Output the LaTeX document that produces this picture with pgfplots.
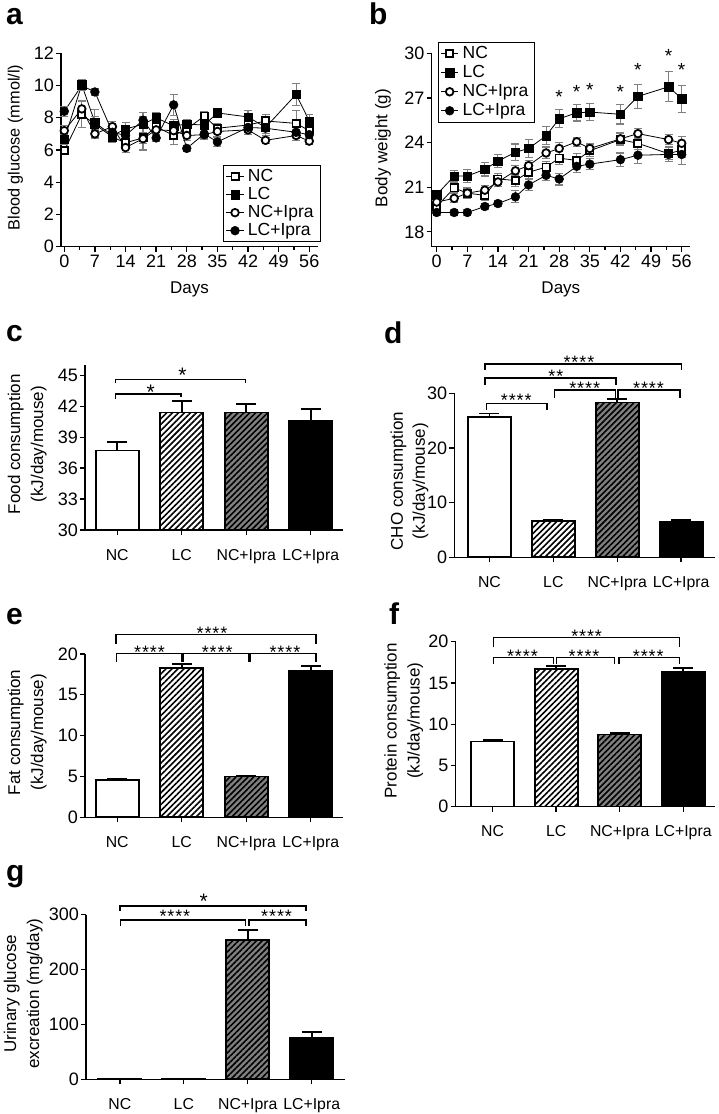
\documentclass[border=0pt]{standalone}
\usepackage{pgfplots}
\pgfplotsset{compat=1.18}
\usepackage{pgfplotstable}
\usepackage{fontspec}
\setmainfont{Liberation Sans}
\usetikzlibrary{patterns.meta}
\newcommand\fs{*\kern0.9pt*\kern0.9pt*\kern0.9pt*}

\pgfplotstableread{
day nc nce lc lce nci ncie lci lcie
0  5.95 0.20 6.65 0.30 7.20 0.30 8.40 0.30
4  8.20 0.80 10.05 0.30 8.55 0.50 10.00 0.30
7  7.60 0.90 7.70 0.40 7.00 0.20 9.60 0.20
11 6.80 0.35 6.90 0.40 7.45 0.30 7.10 0.30
14 6.45 0.35 7.30 0.40 6.15 0.30 6.90 0.30
18 6.75 0.75 7.60 0.50 6.70 0.30 7.85 0.50
21 7.45 0.35 8.00 0.30 7.25 0.30 6.75 0.20
25 6.90 0.55 7.50 0.40 7.20 0.40 8.80 0.65
28 7.30 0.30 7.60 0.30 6.90 0.30 6.10 0.20
32 8.10 0.30 7.55 0.40 6.95 0.30 7.00 0.30
35 7.35 0.30 8.30 0.30 7.15 0.30 6.50 0.30
42 7.55 0.30 8.05 0.40 7.25 0.30 7.40 0.30
46 7.80 0.40 7.40 0.50 6.60 0.20 7.35 0.30
53 7.65 0.80 9.45 0.70 6.90 0.30 7.10 0.30
56 7.20 0.30 7.80 0.40 6.55 0.20 6.95 0.30
}\glucose

\pgfplotstableread{
day nc nce lc lce nci ncie lci lcie
0  19.70 0.30 20.50 0.30 20.00 0.30 19.30 0.20
4  20.95 0.30 21.75 0.40 20.25 0.30 19.30 0.20
7  20.60 0.35 21.75 0.45 20.60 0.30 19.30 0.20
11 20.45 0.35 22.20 0.45 20.80 0.30 19.70 0.20
14 21.55 0.35 22.75 0.45 21.35 0.30 19.90 0.20
18 21.45 0.40 23.35 0.55 22.10 0.35 20.35 0.40
21 22.00 0.45 23.60 0.60 22.45 0.35 21.15 0.35
25 22.35 0.40 24.45 0.60 23.30 0.40 21.80 0.35
28 22.95 0.45 25.60 0.60 23.60 0.40 21.55 0.40
32 22.80 0.45 26.00 0.55 24.05 0.30 22.40 0.40
35 23.45 0.40 26.05 0.55 23.60 0.35 22.55 0.35
42 24.20 0.40 25.90 0.65 24.25 0.40 22.85 0.45
46 23.95 0.40 27.10 0.80 24.60 0.35 23.15 0.55
53 23.25 0.40 27.75 1.00 24.20 0.35 23.20 0.50
56 23.50 0.50 26.95 0.90 23.95 0.45 23.20 0.70
}\weight

\pgfplotsset{
  common/.style={scale only axis, axis x line*=bottom, axis y line*=left,
    axis line style={-, line width=1.3pt}, tick align=outside,
    major tick length=5pt, minor tick length=3.5pt,
    every tick/.style={black, line width=1.3pt},
    tick label style={font=\fontsize{18}{18}\selectfont},
    yticklabel style={inner sep=2pt},
    label style={font=\fontsize{17}{23}\selectfont},
    /pgf/number format/assume math mode=true},
  linepanel/.style={common, clip=false, xtick={0,7,...,56}, minor x tick num=1,
    xlabel style={at={(axis description cs:0.5,0)}, anchor=center, yshift=-43pt},
    legend cell align=left,
    legend style={draw=black, line width=1.2pt, font=\fontsize{17.5}{18}\selectfont,
      inner xsep=2.5pt, inner ysep=2pt, row sep=0pt,
      nodes={text height=12.5pt, text depth=3.5pt, inner ysep=1pt, inner xsep=4pt}}},
  errs/.style={error bars/y dir=both, error bars/y explicit,
    error bars/error bar style={gray, line width=1.1pt},
    error bars/error mark options={gray, rotate=90, mark size=4pt, line width=1.1pt}},
  sNC/.style={black, line width=0.8pt, mark=square*, mark size=3.6pt,
    mark options={solid, fill=white, draw=black, line width=1.8pt}, errs},
  sLC/.style={black, line width=0.8pt, mark=square*, mark size=4.2pt,
    mark options={solid, fill=black, draw=black, line width=0.5pt}, errs},
  sNCI/.style={black, line width=0.8pt, mark=*, mark size=3.8pt,
    mark options={solid, fill=white, draw=black, line width=1.8pt}, errs},
  sLCI/.style={black, line width=0.8pt, mark=*, mark size=4.4pt,
    mark options={solid, fill=black, draw=black, line width=0.5pt}, errs},
  barpanel/.style={common, ybar, clip mode=individual, xmin=-0.5, xmax=3.5,
    xtick={0,1,2,3}, xticklabels={NC,LC,NC+Ipra,LC+Ipra},
    xticklabel style={font=\fontsize{15.8}{16}\selectfont, yshift=-10.5pt},
    ylabel style={align=center, anchor=center}},
  bar/.style={bar width=43pt, bar shift=0pt, draw=black, line width=1.8pt,
    error bars/y dir=plus, error bars/y explicit,
    error bars/error bar style={black, line width=1.8pt},
    error bars/error mark options={black, rotate=90, mark size=10pt, line width=1.8pt}},
  bNC/.style={bar, fill=white},
  bLC/.style={bar, fill=white, postaction={pattern={Lines[angle=45,distance=4.2pt,line width=1.6pt]}, pattern color=black}},
  bNCI/.style={bar, fill=gray, postaction={pattern={Lines[angle=45,distance=4.2pt,line width=1.6pt]}, pattern color=black}},
  bLCI/.style={bar, fill=black},
}
\tikzset{
  brk/.style={draw=black, line width=1.4pt},
  st/.style={font=\fontsize{18}{18}\selectfont, inner sep=0pt, anchor=center, yshift=-3.6pt},
  plab/.style={anchor=base west, inner sep=0pt, font=\fontsize{30}{30}\selectfont\bfseries},
}

\begin{document}
\begin{tikzpicture}
\useasboundingbox (0,0) rectangle (718pt,1114pt);

% panel letters
\node[plab] at (6pt,1089pt) {a};
\node[plab] at (369pt,1089pt) {b};
\node[plab] at (6pt,772.3pt) {c};
\node[plab] at (384pt,770.7pt) {d};
\node[plab] at (6pt,489.7pt) {e};
\node[plab] at (389pt,489pt) {f};
\node[plab] at (6pt,232.3pt) {g};

% ---------------- a
\begin{axis}[linepanel, at={(61pt,867.3pt)}, anchor=south west,
  width=257pt, height=193.4pt, xmin=-0.75, xmax=58, ymin=0, ymax=12,
  ytick={0,2,...,12}, xlabel={Days}, ylabel={Blood glucose (mmol/l)},
  ylabel style={at={(axis description cs:-0.177,0.513)}, anchor=center, font=\fontsize{16.3}{20}\selectfont},
  legend style={at={(axis description cs:1.0105,0.0228)}, anchor=south east}]
\addplot[sNC] table[x=day,y=nc,y error=nce]{\glucose};
\addplot[sLC] table[x=day,y=lc,y error=lce]{\glucose};
\addplot[sNCI] table[x=day,y=nci,y error=ncie]{\glucose};
\addplot[sLCI] table[x=day,y=lci,y error=lcie]{\glucose};
\legend{NC,LC,NC+Ipra,LC+Ipra}
\end{axis}

% ---------------- b
\begin{axis}[linepanel, at={(431.7pt,867.3pt)}, anchor=south west,
  width=258.3pt, height=193.4pt, xmin=-1.14, xmax=57.9, ymin=17, ymax=30,
  ytick={18,21,...,30}, xlabel={Days}, ylabel={Body weight (g)},
  ylabel style={at={(axis description cs:-0.189,0.51)}, anchor=center},
  legend style={at={(axis description cs:0.023,1.06)}, anchor=north west,
    nodes={text height=12.5pt, text depth=3.5pt, inner ysep=1.5pt, inner xsep=4pt}}]
\addplot[sNC] table[x=day,y=nc,y error=nce]{\weight};
\addplot[sLC] table[x=day,y=lc,y error=lce]{\weight};
\addplot[sNCI] table[x=day,y=nci,y error=ncie]{\weight};
\addplot[sLCI] table[x=day,y=lci,y error=lcie]{\weight};
\legend{NC,LC,NC+Ipra,LC+Ipra}
\node[st, font=\fontsize{19}{19}\selectfont] at (axis cs:28,27.3) {*};
\node[st, font=\fontsize{19}{19}\selectfont] at (axis cs:32,27.65) {*};
\node[st, font=\fontsize{19}{19}\selectfont] at (axis cs:35,27.8) {*};
\node[st, font=\fontsize{19}{19}\selectfont] at (axis cs:42,27.65) {*};
\node[st, font=\fontsize{19}{19}\selectfont] at (axis cs:46,29.1) {*};
\node[st, font=\fontsize{19}{19}\selectfont] at (axis cs:53,30.07) {*};
\node[st, font=\fontsize{19}{19}\selectfont] at (axis cs:56,29.1) {*};
\end{axis}

% ---------------- c
\begin{axis}[barpanel, at={(85pt,584pt)}, anchor=south west,
  width=258pt, height=165pt, ymin=30, ymax=46, ytick={30,33,...,45},
  ylabel={Food consumption\\(kJ/day/mouse)},
  ylabel style={at={(axis description cs:-0.224,0.52)}}]
\addplot[bNC] coordinates {(0,37.7) +- (0,0.8)};
\addplot[bLC] coordinates {(1,41.4) +- (0,1.1)};
\addplot[bNCI] coordinates {(2,41.4) +- (0,0.8)};
\addplot[bLCI] coordinates {(3,40.6) +- (0,1.1)};
\draw[brk] (axis cs:-0.03,42.75) |- (axis cs:0.99,43.17) -- (axis cs:0.99,42.9);
\node[st, font=\fontsize{21}{21}\selectfont] at (axis cs:0.52,43.75) {*};
\draw[brk] (axis cs:-0.03,44.23) |- (axis cs:1.99,44.62) -- (axis cs:1.99,44.23);
\node[st, font=\fontsize{21}{21}\selectfont] at (axis cs:1.01,45.32) {*};
\end{axis}

% ---------------- d
\begin{axis}[barpanel, at={(454.3pt,556.7pt)}, anchor=south west,
  width=260.7pt, height=164pt, xmin=-0.55, xmax=3.53, ymin=0, ymax=30,
  ytick={0,10,20,30},
  ylabel={CHO consumption\\(kJ/day/mouse)},
  ylabel style={at={(axis description cs:-0.172,0.465)}, font=\fontsize{17}{22}\selectfont}]
\addplot[bNC] coordinates {(0,25.7) +- (0,0.6)};
\addplot[bLC] coordinates {(1,6.7) +- (0,0.2)};
\addplot[bNCI] coordinates {(2,28.3) +- (0,0.6)};
\addplot[bLCI] coordinates {(3,6.5) +- (0,0.25)};
\draw[brk] (axis cs:-0.05,26.93) |- (axis cs:0.9,28.15) -- (axis cs:0.9,26.93);
\node[st] at (axis cs:0.42,29.3) {\fs};
\draw[brk] (axis cs:1.02,29.12) |- (axis cs:1.97,30.59) -- (axis cs:1.97,29.12);
\node[st] at (axis cs:1.49,31.5) {\fs};
\draw[brk] (axis cs:2.01,29.12) |- (axis cs:2.98,30.59) -- (axis cs:2.98,29.12);
\node[st] at (axis cs:2.49,31.5) {\fs};
\draw[brk] (axis cs:-0.07,31.5) |- (axis cs:1.98,32.83) -- (axis cs:1.98,31.5);
\node[st] at (axis cs:1.04,33.75) {*\kern0.9pt*};
\draw[brk] (axis cs:-0.07,34.24) |- (axis cs:3.01,35.34) -- (axis cs:3.01,34.24);
\node[st] at (axis cs:1.4,36.38) {\fs};
\end{axis}

% ---------------- e
\begin{axis}[barpanel, at={(85pt,296.7pt)}, anchor=south west,
  width=258pt, height=163.3pt, ymin=0, ymax=20, ytick={0,5,...,20},
  ylabel={Fat consumption\\(kJ/day/mouse)},
  ylabel style={at={(axis description cs:-0.224,0.52)}}]
\addplot[bNC] coordinates {(0,4.55) +- (0,0.1)};
\addplot[bLC] coordinates {(1,18.3) +- (0,0.5)};
\addplot[bNCI] coordinates {(2,5.0) +- (0,0.1)};
\addplot[bLCI] coordinates {(3,17.95) +- (0,0.55)};
\draw[brk] (axis cs:-0.01,19.06) |- (axis cs:1.0,20.09) -- (axis cs:1.0,19.06);
\node[st] at (axis cs:0.5,20.7) {\fs};
\draw[brk] (axis cs:1.02,19.06) |- (axis cs:2.04,20.09) -- (axis cs:2.04,19.06);
\node[st] at (axis cs:1.55,20.7) {\fs};
\draw[brk] (axis cs:2.07,19.06) |- (axis cs:3.08,20.09) -- (axis cs:3.08,19.06);
\node[st] at (axis cs:2.6,20.7) {\fs};
\draw[brk] (axis cs:-0.02,21.2) |- (axis cs:3.08,22.41) -- (axis cs:3.08,21.2);
\node[st] at (axis cs:1.47,23.02) {\fs};
\end{axis}

% ---------------- f
\begin{axis}[barpanel, at={(455.7pt,307.3pt)}, anchor=south west,
  width=259.3pt, height=165pt, xmin=-0.58, xmax=3.5, ymin=0, ymax=20,
  ytick={0,5,...,20},
  ylabel={Protein consumption\\(kJ/day/mouse)},
  ylabel style={at={(axis description cs:-0.2,0.52)}}]
\addplot[bNC] coordinates {(0,7.9) +- (0,0.2)};
\addplot[bLC] coordinates {(1,16.65) +- (0,0.45)};
\addplot[bNCI] coordinates {(2,8.75) +- (0,0.15)};
\addplot[bLCI] coordinates {(3,16.3) +- (0,0.48)};
\draw[brk] (axis cs:0.01,19.3) |- (axis cs:2.94,20.48) -- (axis cs:2.94,19.3);
\node[st] at (axis cs:1.48,21.09) {\fs};
\draw[brk] (axis cs:0.01,17.3) |- (axis cs:0.96,18.1) -- (axis cs:0.96,17.3);
\node[st] at (axis cs:0.47,18.7) {\fs};
\draw[brk] (axis cs:1.01,17.3) |- (axis cs:1.92,18.1) -- (axis cs:1.92,17.3);
\node[st] at (axis cs:1.44,18.7) {\fs};
\draw[brk] (axis cs:1.99,17.3) |- (axis cs:2.94,18.1) -- (axis cs:2.94,17.3);
\node[st] at (axis cs:2.45,18.7) {\fs};
\end{axis}

% ---------------- g
\begin{axis}[barpanel, at={(86pt,34.7pt)}, anchor=south west,
  width=259pt, height=164.6pt, xmin=-0.53, xmax=3.52, ymin=0, ymax=300,
  ytick={0,100,200,300},
  ylabel={Urinary glucose\\excreation (mg/day)},
  ylabel style={at={(axis description cs:-0.242,0.52)}}]
\addplot[bNC] coordinates {(0,0.3) +- (0,0)};
\addplot[bLC] coordinates {(1,1.0) +- (0,0)};
\addplot[bNCI] coordinates {(2,254) +- (0,18)};
\addplot[bLCI] coordinates {(3,74.8) +- (0,11)};
\draw[brk] (axis cs:0,306.2) |- (axis cs:2.91,316.2) -- (axis cs:2.91,306.2);
\node[st, font=\fontsize{21}{21}\selectfont] at (axis cs:1.31,330.3) {*};
\draw[brk] (axis cs:0.01,279.7) |- (axis cs:1.96,290.7) -- (axis cs:1.96,279.7);
\node[st] at (axis cs:0.86,303) {\fs};
\draw[brk] (axis cs:2.02,279.7) |- (axis cs:2.91,290.7) -- (axis cs:2.91,279.7);
\node[st] at (axis cs:2.45,303) {\fs};
\end{axis}
\end{tikzpicture}
\end{document}
